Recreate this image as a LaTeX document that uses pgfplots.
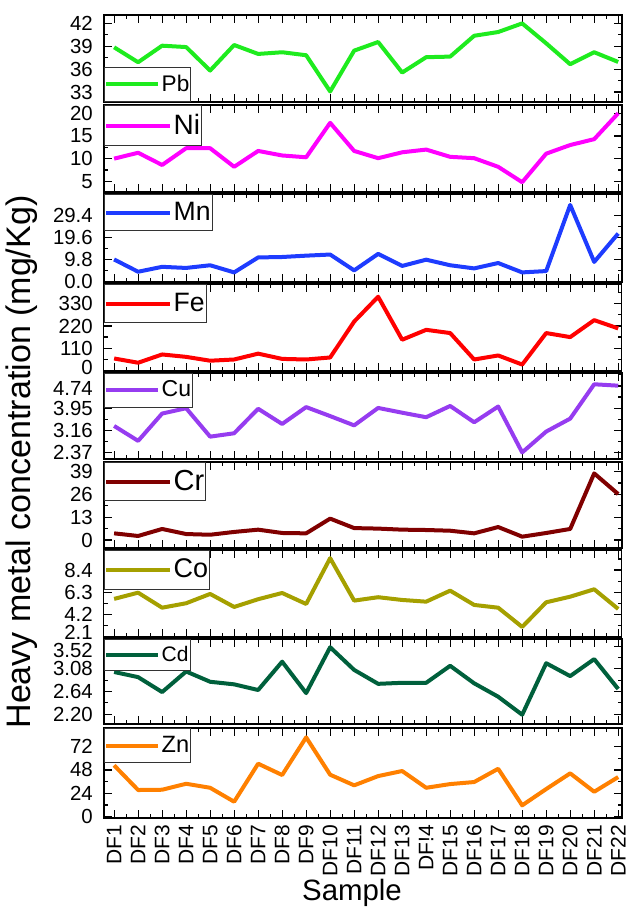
\documentclass[border=0pt]{standalone}
\usepackage{fontspec}
\setmainfont{Liberation Sans}
\usepackage{pgfplots}
\pgfplotsset{compat=1.18}
\newlength\px \setlength\px{0.5pt}
\definecolor{cPb}{RGB}{30,235,30}
\definecolor{cNi}{RGB}{255,0,255}
\definecolor{cMn}{RGB}{30,60,255}
\definecolor{cFe}{RGB}{255,0,0}
\definecolor{cCu}{RGB}{150,60,240}
\definecolor{cCr}{RGB}{128,0,0}
\definecolor{cCo}{RGB}{165,160,0}
\definecolor{cCd}{RGB}{0,96,60}
\definecolor{cZn}{RGB}{255,128,0}
\pgfplotsset{
  panel/.style={
    scale only axis, width=518\px,
    xmin=0.57, xmax=22.15,
    xtick={1,...,22}, minor x tick num=1,
    xticklabels={},
    minor y tick num=1,
    tick align=inside,
    major tick length=8\px, minor tick length=4\px,
    axis line style={line width=1.4\px},
    every tick/.style={line width=1.2\px, black},
    tick label style={font=\fontsize{10.2}{12}\selectfont},
    /pgf/number format/assume math mode=true,
    yticklabel style={xshift=-4\px},
    legend cell align=left,
    legend style={at={(0,1)}, anchor=north west, draw=black!80, line width=0.8\px,
      fill=white, inner xsep=0pt, inner ysep=0pt,
      nodes={inner xsep=1.5\px, inner ysep=7.5\px}},
  },
  tallleg/.style={legend style={nodes={inner ysep=8.5\px}}},
  longleg/.style={legend image code/.code={\draw[##1] (0pt,0pt) -- (64\px,0pt);}},
  shortleg/.style={legend image code/.code={\draw[##1] (0pt,0pt) -- (52\px,0pt);}},
  ser/.style={line width=4\px, #1, line join=round},
}
\begin{document}
\begin{tikzpicture}
\path[use as bounding box] (0,0) rectangle (630\px,-912\px);
% Pb
\begin{axis}[panel, shortleg, at={(103.8\px,-15\px)}, anchor=north west, height=87\px,
  ymin=31.7, ymax=43.1, ytick={33,36,39,42},
  legend style={at={(0,0)}, anchor=south west, font=\fontsize{11.3}{13}\selectfont}]
\addplot[ser=cPb] coordinates {(1,38.87)(2,36.91)(3,39.08)(4,38.9)(5,35.82)(6,39.17)(7,38.0)(8,38.22)(9,37.83)(10,33.08)(11,38.43)(12,39.56)(13,35.56)(14,37.57)(15,37.65)(16,40.38)(17,40.87)(18,42.0)(19,39.39)(20,36.65)(21,38.22)(22,36.95)};
\addlegendentry{Pb}
\end{axis}
% Ni
\begin{axis}[panel, longleg, tallleg, at={(103.8\px,-105\px)}, anchor=north west, height=87\px,
  ymin=2.64, ymax=21.83, ytick={5,10,15,20},
  legend style={font=\fontsize{14}{16}\selectfont}]
\addplot[ser=cNi] coordinates {(1,10.0)(2,11.3)(3,8.6)(4,12.3)(5,12.3)(6,8.2)(7,11.7)(8,10.7)(9,10.3)(10,17.9)(11,11.7)(12,10.1)(13,11.4)(14,12.0)(15,10.4)(16,10.1)(17,8.2)(18,4.8)(19,11.1)(20,13.0)(21,14.3)(22,20.0)};
\addlegendentry{Ni}
\end{axis}
% Mn
\begin{axis}[panel, longleg, at={(103.8\px,-194\px)}, anchor=north west, height=88\px,
  ymin=-0.3, ymax=39.1, ytick={0,9.8,19.6,29.4}, yticklabels={0.0,9.8,19.6,29.4},
  legend style={font=\fontsize{13.3}{15}\selectfont}]
\addplot[ser=cMn] coordinates {(1,9.8)(2,4.3)(3,6.5)(4,6.0)(5,7.2)(6,4.0)(7,10.7)(8,10.9)(9,11.5)(10,12.0)(11,4.9)(12,12.3)(13,6.9)(14,9.7)(15,7.2)(16,5.8)(17,8.2)(18,4.0)(19,4.6)(20,34.2)(21,8.7)(22,21.4)};
\addlegendentry{Mn}
\end{axis}
% Fe
\begin{axis}[panel, longleg, tallleg, at={(103.8\px,-284\px)}, anchor=north west, height=87\px,
  ymin=-3, ymax=428, ytick={110,220,330}, minor ytick={55,165,275,385},
  extra y ticks={0}, extra y tick style={yticklabel style={yshift=2.5\px}},
  legend style={font=\fontsize{13.3}{15}\selectfont}]
\addplot[ser=cFe] coordinates {(1,59)(2,38)(3,79)(4,67)(5,48)(6,54)(7,83)(8,57)(9,54)(10,64)(11,242)(12,365)(13,152)(14,201)(15,185)(16,54)(17,74)(18,29)(19,185)(20,165)(21,249)(22,208)};
\addlegendentry{Fe}
\end{axis}
% Cu
\begin{axis}[panel, shortleg, at={(103.8\px,-373\px)}, anchor=north west, height=86\px,
  ymin=2.146, ymax=5.20, ytick={2.37,3.16,3.95}, yticklabels={2.37,3.16,3.95},
  minor ytick={2.765,3.555,4.345,5.135},
  extra y ticks={4.74}, extra y tick labels={4.74}, extra y tick style={yticklabel style={yshift=-2.5\px}},
  legend style={font=\fontsize{11.5}{13}\selectfont}]
\addplot[ser=cCu] coordinates {(1,3.32)(2,2.79)(3,3.76)(4,3.95)(5,2.94)(6,3.06)(7,3.93)(8,3.39)(9,3.99)(10,3.67)(11,3.34)(12,3.96)(13,3.79)(14,3.63)(15,4.03)(16,3.45)(17,4.01)(18,2.38)(19,3.12)(20,3.58)(21,4.80)(22,4.75)};
\addlegendentry{Cu}
\end{axis}
% Cr
\begin{axis}[panel, longleg, at={(103.8\px,-462\px)}, anchor=north west, height=86\px,
  ymin=-4.57, ymax=44.5, ytick={0,13,26,39},
  legend style={font=\fontsize{14.5}{16}\selectfont}]
\addplot[ser=cCr] coordinates {(1,3.8)(2,2.3)(3,6.3)(4,3.4)(5,3.0)(6,4.6)(7,5.9)(8,4.0)(9,3.8)(10,12.2)(11,6.8)(12,6.5)(13,5.9)(14,5.7)(15,5.3)(16,3.8)(17,7.4)(18,1.9)(19,4.0)(20,6.3)(21,38.0)(22,26.2)};
\addlegendentry{Cr}
\end{axis}
% Co
\begin{axis}[panel, longleg, tallleg, at={(103.8\px,-550\px)}, anchor=north west, height=87\px,
  ymin=2.07, ymax=10.29, ytick={4.2,6.3,8.4}, minor ytick={3.15,5.25,7.35,9.45},
  extra y ticks={2.1}, extra y tick style={yticklabel style={yshift=4.5\px}},
  legend style={font=\fontsize{13.5}{15}\selectfont}]
\addplot[ser=cCo] coordinates {(1,5.67)(2,6.26)(3,4.84)(4,5.26)(5,6.14)(6,4.91)(7,5.64)(8,6.23)(9,5.19)(10,9.52)(11,5.51)(12,5.83)(13,5.57)(14,5.41)(15,6.45)(16,5.10)(17,4.84)(18,3.02)(19,5.35)(20,5.88)(21,6.58)(22,4.72)};
\addlegendentry{Co}
\end{axis}
% Cd
\begin{axis}[panel, shortleg, at={(103.8\px,-639\px)}, anchor=north west, height=85\px,
  ymin=2.01, ymax=3.66, ytick={2.20,2.64,3.08}, yticklabels={2.20,2.64,3.08},
  minor ytick={2.42,2.86,3.30},
  extra y ticks={3.52}, extra y tick labels={3.52}, extra y tick style={yticklabel style={yshift=-4.5\px}},
  legend style={font=\fontsize{10.5}{12}\selectfont, nodes={inner ysep=6.5\px}}]
\addplot[ser=cCd] coordinates {(1,3.02)(2,2.92)(3,2.63)(4,3.03)(5,2.83)(6,2.78)(7,2.67)(8,3.22)(9,2.61)(10,3.50)(11,3.06)(12,2.79)(13,2.81)(14,2.81)(15,3.14)(16,2.80)(17,2.54)(18,2.19)(19,3.19)(20,2.94)(21,3.27)(22,2.69)};
\addlegendentry{Cd}
\end{axis}
% Zn
\begin{axis}[panel, shortleg, at={(103.8\px,-728\px)}, anchor=north west, height=90\px,
  ymin=-1.3, ymax=91, ytick={0,24,48,72},
  xticklabels={DF1,DF2,DF3,DF4,DF5,DF6,DF7,DF8,DF9,DF10,DF11,DF12,DF13,DF!4,DF15,DF16,DF17,DF18,DF19,DF20,DF21,DF22},
  xticklabel style={rotate=90, anchor=east, font=\fontsize{10.5}{12}\selectfont},
  legend style={font=\fontsize{11.8}{13}\selectfont}]
\addplot[ser=cZn] coordinates {(1,52.7)(2,27.4)(3,27.7)(4,33.8)(5,29.7)(6,15.4)(7,54.4)(8,42.8)(9,81.4)(10,43.1)(11,32.2)(12,41.7)(13,46.9)(14,29.7)(15,33.5)(16,35.6)(17,49.2)(18,11.7)(19,28.4)(20,44.5)(21,25.6)(22,40.7)};
\addlegendentry{Zn}
\end{axis}
\node[rotate=90, font=\fontsize{17}{19}\selectfont] at (22\px,-462\px) {Heavy metal concentration (mg/Kg)};
\node[font=\fontsize{14.7}{17}\selectfont] at (352\px,-893\px) {Sample};
\end{tikzpicture}
\end{document}
